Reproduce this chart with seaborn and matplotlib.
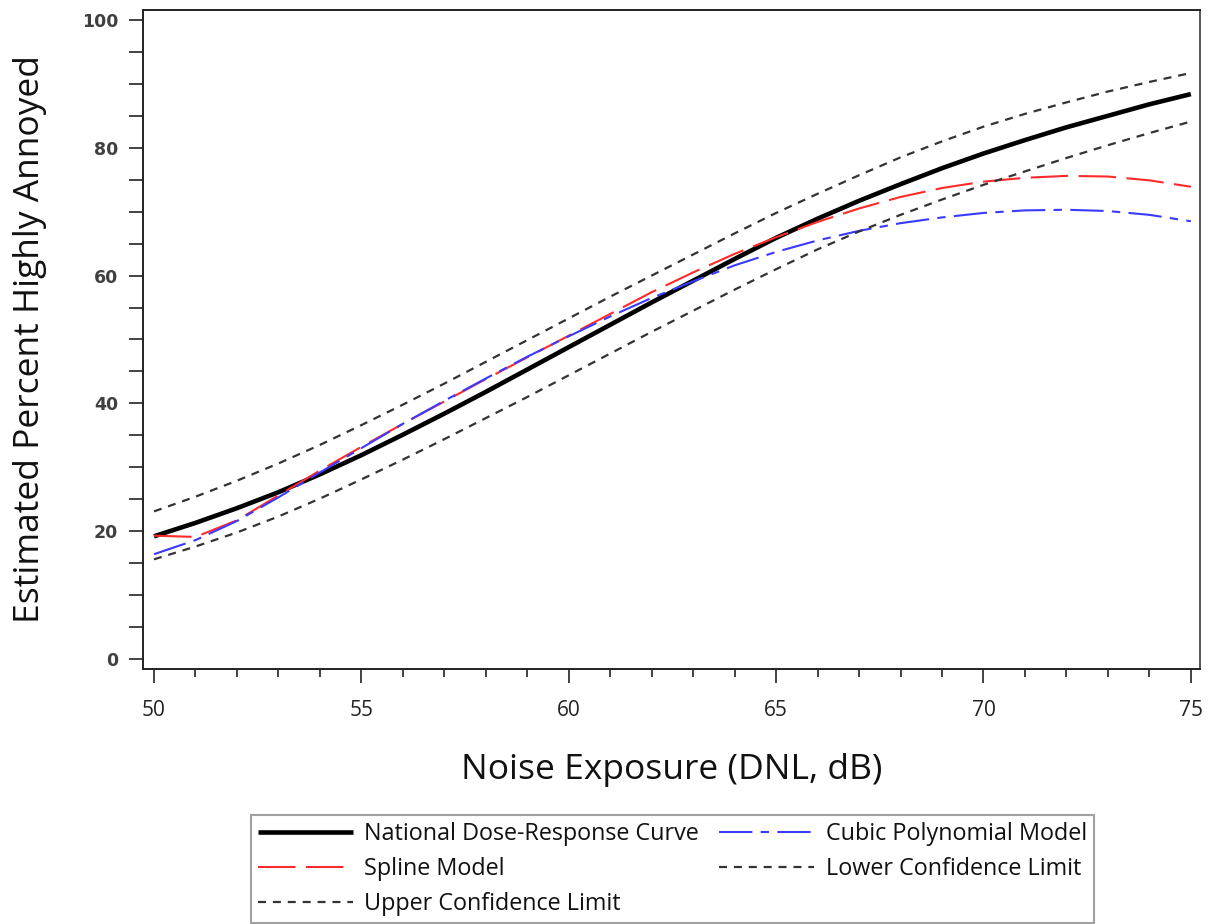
import numpy as np
import pandas as pd
import matplotlib.pyplot as plt
import seaborn as sns
from matplotlib.ticker import MultipleLocator

# values, one per dB
dnl = list(range(50, 76))
national = [19.2, 21.3, 23.6, 26.1, 28.9, 31.9, 35.1, 38.4, 41.8, 45.3, 48.8, 52.3, 55.8,
            59.2, 62.6, 65.9, 68.9, 71.7, 74.3, 76.8, 79.1, 81.2, 83.2, 85.0, 86.8, 88.4]
spline = [19.3, 19.1, 21.7, 25.6, 29.5, 33.2, 36.8, 40.3, 43.8, 47.2, 50.6, 54.0, 57.4,
          60.5, 63.4, 66.0, 68.4, 70.5, 72.3, 73.7, 74.7, 75.3, 75.6, 75.5, 74.9, 73.9]
cubic = [16.4, 18.6, 21.6, 25.3, 29.2, 33.0, 36.8, 40.4, 43.9, 47.3, 50.5, 53.6, 56.5,
         59.1, 61.6, 63.7, 65.5, 67.0, 68.2, 69.1, 69.8, 70.2, 70.3, 70.1, 69.5, 68.5]
lower = [15.6, 17.6, 19.8, 22.3, 25.1, 28.1, 31.2, 34.4, 37.7, 41.0, 44.4, 47.8, 51.2,
         54.5, 57.8, 61.0, 64.1, 66.9, 69.5, 71.9, 74.2, 76.3, 78.4, 80.4, 82.3, 84.1]
upper = [23.1, 25.4, 27.9, 30.6, 33.5, 36.6, 39.8, 43.1, 46.5, 49.9, 53.3, 56.7, 60.0,
         63.3, 66.6, 69.8, 72.8, 75.7, 78.5, 81.0, 83.3, 85.3, 87.1, 88.8, 90.3, 91.7]

xticks = [50, 55, 60, 65, 70, 75]
yticks = [0, 20, 40, 60, 80, 100]

df = pd.DataFrame({'DNL': dnl, 'national': national, 'spline': spline,
                   'cubic': cubic, 'lower': lower, 'upper': upper})

sns.set_theme(style='ticks')
plt.rcParams['font.family'] = ['Open Sans', 'DejaVu Sans']

fig = plt.figure(figsize=(12.11, 9.24), dpi=100)
ax = fig.add_axes([0.1181, 0.2760, 0.8728, 0.7132])

sns.lineplot(data=df, x='DNL', y='national', ax=ax, color='black', lw=3.3,
             solid_capstyle='butt')
sns.lineplot(data=df, x='DNL', y='spline', ax=ax, color='#ff2a2a', lw=1.5,
             linestyle=(0, (18, 5)))
sns.lineplot(data=df, x='DNL', y='cubic', ax=ax, color='#3a3aff', lw=1.5,
             linestyle=(0, (16, 4, 4, 4)))
sns.lineplot(data=df, x='DNL', y='lower', ax=ax, color='#333333', lw=1.6,
             linestyle=(0, (3.6, 3.1)))
sns.lineplot(data=df, x='DNL', y='upper', ax=ax, color='#333333', lw=1.6,
             linestyle=(0, (3.6, 3.1)))

ax.set_xlim(49.735, 75.22)
ax.set_ylim(-1.56, 101.56)

ax.set_xticks(xticks)
ax.set_xticklabels([str(t) for t in xticks], fontsize=15, color='#222222')
ax.xaxis.set_minor_locator(MultipleLocator(1))
ax.set_yticks(yticks)
ax.set_yticklabels([str(t) for t in yticks], fontsize=12.5, fontweight='bold',
                   family='DejaVu Sans', color='#404040')
ax.yaxis.set_minor_locator(MultipleLocator(5))

ax.tick_params(axis='x', which='major', length=10, width=1.2, pad=12, color='#222222')
ax.tick_params(axis='x', which='minor', length=5.5, width=1.2, color='#222222')
ax.tick_params(axis='y', which='both', length=10, width=1.2, pad=8, color='#222222')

for side in ['left', 'bottom', 'top', 'right']:
    ax.spines[side].set_visible(True)
    ax.spines[side].set_linewidth(1.4)
    ax.spines[side].set_color('#222222')
ax.spines['right'].set_color('#555555')

ax.set_xlabel('Noise Exposure (DNL, dB)', fontsize=25.5, color='#111111')
ax.set_ylabel('Estimated Percent Highly Annoyed', fontsize=25.5, color='#111111')
ax.xaxis.label.set_va('center')
ax.xaxis.set_label_coords(0.5, -0.153)
ax.yaxis.label.set_va('center')
ax.yaxis.set_label_coords(-0.1069, 0.5)

if ax.get_legend() is not None:
    ax.get_legend().remove()

ln = ax.lines
handles = [ln[0], ln[1], ln[4], ln[2], ln[3]]
labels = ['National Dose-Response Curve', 'Spline Model', 'Upper Confidence Limit',
          'Cubic Polynomial Model', 'Lower Confidence Limit']
leg = fig.legend(handles, labels, loc='upper center', bbox_to_anchor=(0.5553, 0.118),
                 ncol=2, frameon=True, fancybox=False, edgecolor='#888888',
                 fontsize=16.8, handlelength=4.07, handletextpad=0.51, columnspacing=0.86,
                 labelspacing=0.48, borderpad=0.3, borderaxespad=0)
leg.get_frame().set_linewidth(1.5)
for t in leg.get_texts():
    t.set_color('#111111')

fig.savefig('out.png', dpi=100)
plt.close()
